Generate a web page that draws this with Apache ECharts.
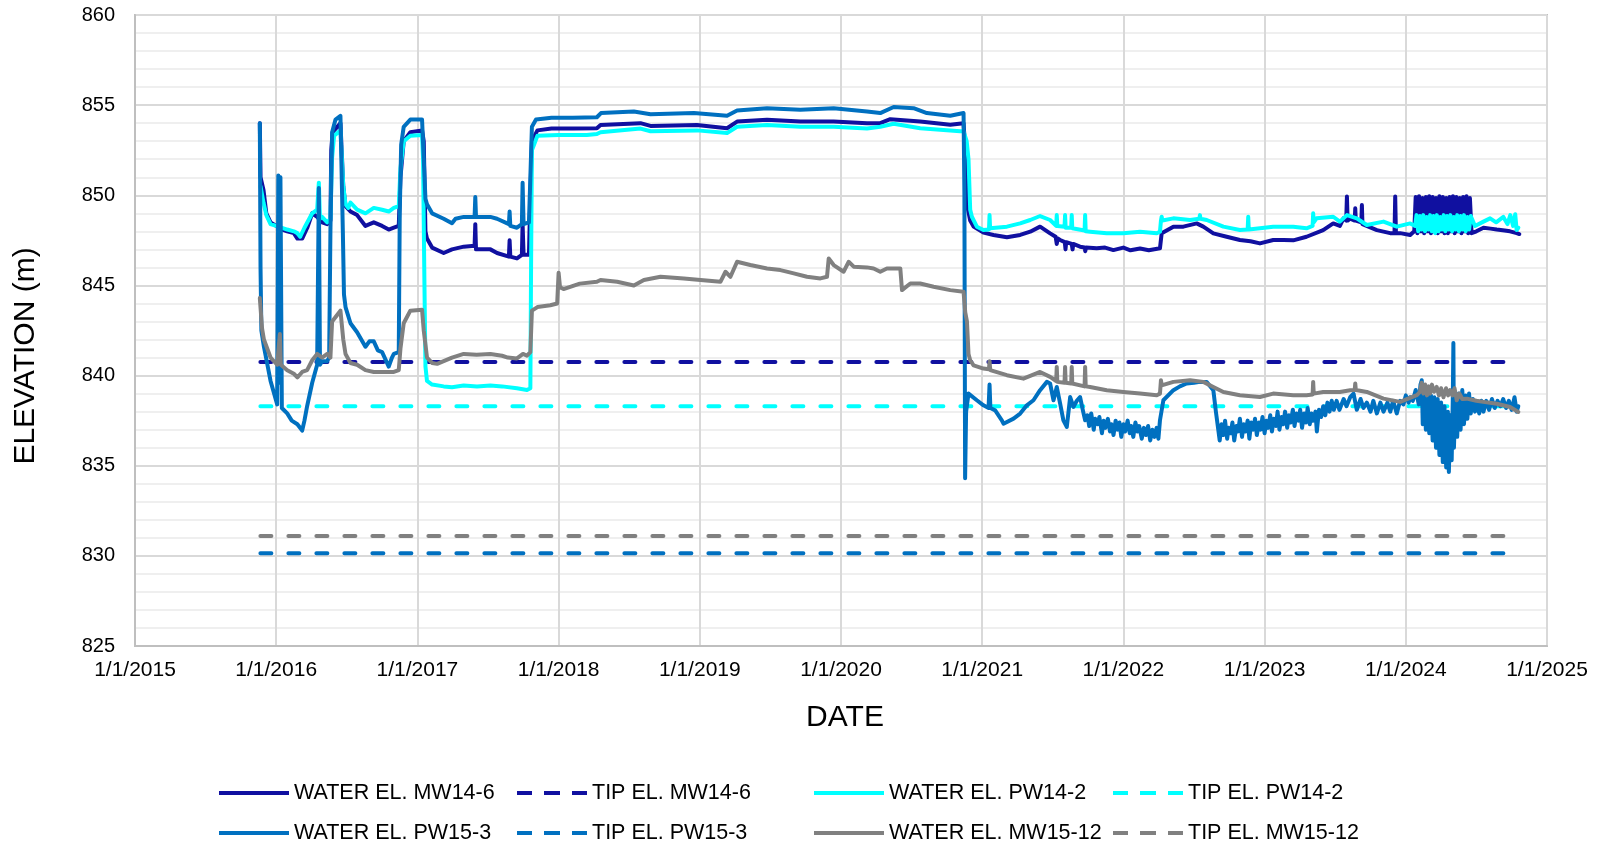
<!DOCTYPE html>
<html><head><meta charset="utf-8">
<script src="https://cdn.jsdelivr.net/npm/echarts@6/dist/echarts.min.js"></script>
<style>html,body{margin:0;padding:0;background:#fff}#c{width:1600px;height:861px}</style>
</head><body><div id="c"></div>
<script>
// x values are dates expressed as decimal years
const xTickLabels = ['1/1/2015','1/1/2016','1/1/2017','1/1/2018','1/1/2019','1/1/2020','1/1/2021','1/1/2022','1/1/2023','1/1/2024','1/1/2025'];
const xMin = 2015, xMax = 2025;
const yMin = 825, yMax = 860, yStep = 5;
const xTitle = 'DATE', yTitle = 'ELEVATION (m)';

const seriesNames = ['WATER EL. MW14-6','TIP EL. MW14-6','WATER EL. PW14-2','TIP EL. PW14-2',
                     'WATER EL. PW15-3','TIP EL. PW15-3','WATER EL. MW15-12','TIP EL. MW15-12'];

const tipStart = 2015.888, tipEnd = 2024.71;
const tipMW146 = 840.75, tipPW142 = 838.3, tipPW153 = 830.15, tipMW1512 = 831.1;

const mw146 = [
[2015.884,854.0],[2015.889,851.0],[2015.91,850.3],[2015.93,849.0],[2015.96,848.5],[2016.0,848.3],[2016.042,848.1],[2016.078,848.0],[2016.125,847.9],[2016.15,847.6],[2016.184,847.6],[2016.22,848.2],[2016.255,849.0],[2016.29,848.8],[2016.325,848.5],[2016.361,848.4],[2016.384,848.6],[2016.39,852.5],[2016.40,853.5],[2016.455,854.0],[2016.467,853.9],[2016.475,850.5],[2016.491,849.4],[2016.526,849.1],[2016.573,848.9],[2016.632,848.3],[2016.691,848.5],[2016.75,848.3],[2016.797,848.1],[2016.833,848.2],[2016.868,848.3],[2016.88,851.0],[2016.903,853.0],[2016.95,853.5],[2017.033,853.6],[2017.045,853.0],[2017.057,848.0],[2017.068,847.6],[2017.104,847.1],[2017.186,846.8],[2017.245,847.0],[2017.328,847.15],[2017.405,847.2],[2017.41,848.4],[2017.415,847.0],[2017.517,847.0],[2017.564,846.8],[2017.648,846.6],[2017.653,847.5],[2017.658,846.6],[2017.705,846.5],[2017.74,846.7],[2017.745,848.4],[2017.752,846.7],[2017.79,846.7],[2017.80,850.0],[2017.811,853.0],[2017.85,853.6],[2017.95,853.7],[2018.1,853.7],[2018.271,853.72],[2018.297,853.9],[2018.58,854.0],[2018.651,853.85],[2018.98,853.9],[2019.193,853.72],[2019.264,854.09],[2019.476,854.19],[2019.712,854.09],[2019.948,854.09],[2020.184,854.0],[2020.278,854.0],[2020.349,854.22],[2020.561,854.09],[2020.774,853.91],[2020.868,854.0],[2020.88,852.5],[2020.892,849.5],[2020.915,848.6],[2020.939,848.26],[2021.009,847.93],[2021.08,847.8],[2021.175,847.67],[2021.269,847.8],[2021.34,847.98],[2021.41,848.26],[2021.481,847.89],[2021.52,847.7],[2021.528,847.3],[2021.535,847.6],[2021.552,847.52],[2021.585,847.4],[2021.59,847.0],[2021.595,847.4],[2021.634,847.3],[2021.64,847.0],[2021.645,847.3],[2021.693,847.15],[2021.725,847.1],[2021.73,846.9],[2021.735,847.1],[2021.811,847.06],[2021.87,847.1],[2021.929,846.96],[2022.0,847.1],[2022.05,846.95],[2022.118,847.05],[2022.18,846.95],[2022.259,847.06],[2022.271,847.89],[2022.354,848.26],[2022.425,848.26],[2022.519,848.44],[2022.566,848.26],[2022.637,847.89],[2022.731,847.7],[2022.825,847.52],[2022.9,847.45],[2022.967,847.33],[2023.061,847.52],[2023.134,847.52],[2023.203,847.5],[2023.297,847.7],[2023.415,848.07],[2023.486,848.44],[2023.533,848.3],[2023.559,848.72],[2023.578,848.6],[2023.583,849.93],[2023.588,848.6],[2023.606,848.7],[2023.638,848.6],[2023.642,849.28],[2023.646,848.6],[2023.685,848.5],[2023.689,849.46],[2023.693,848.4],[2023.7,848.44],[2023.795,848.07],[2023.889,847.9],[2023.92,847.9],[2023.925,849.93],[2023.93,847.9],[2023.96,847.9],[2024.031,847.8],[2024.06,848.0],
[2024.07,849.9],[2024.082,847.9],[2024.094,849.95],[2024.106,848.0],[2024.118,849.85],[2024.13,847.9],[2024.142,849.9],[2024.154,848.0],[2024.166,849.95],[2024.178,847.9],[2024.19,849.9],[2024.202,848.0],[2024.214,849.85],[2024.226,847.9],[2024.238,849.95],[2024.25,848.0],[2024.262,849.9],[2024.274,847.9],[2024.286,849.85],[2024.298,847.9],[2024.31,849.9],[2024.322,848.0],[2024.334,849.95],[2024.346,847.9],[2024.358,849.9],[2024.37,848.0],[2024.382,849.85],[2024.394,847.9],[2024.406,849.9],[2024.418,848.0],[2024.43,849.95],[2024.442,847.9],[2024.454,849.85],[2024.466,847.9],
[2024.5,848.0],[2024.55,848.2],[2024.6,848.15],[2024.644,848.1],[2024.7,848.05],[2024.738,848.0],[2024.785,847.9],[2024.804,847.85]
];

const pw142 = [
[2015.889,850.5],[2015.91,849.6],[2015.93,848.9],[2015.96,848.4],[2016.0,848.3],[2016.078,848.1],[2016.125,848.0],[2016.15,847.9],[2016.17,847.7],[2016.2,848.2],[2016.255,849.0],[2016.29,849.2],[2016.298,849.1],[2016.302,850.7],[2016.31,848.7],[2016.325,848.8],[2016.361,848.5],[2016.384,848.7],[2016.395,852.0],[2016.41,853.3],[2016.455,853.6],[2016.467,853.5],[2016.475,850.5],[2016.491,849.5],[2016.51,849.3],[2016.526,849.6],[2016.573,849.2],[2016.632,849.0],[2016.691,849.3],[2016.75,849.2],[2016.797,849.1],[2016.833,849.3],[2016.868,849.4],[2016.88,851.5],[2016.903,853.0],[2016.95,853.3],[2017.033,853.35],[2017.04,852.0],[2017.05,845.0],[2017.057,840.5],[2017.068,839.7],[2017.104,839.5],[2017.186,839.4],[2017.245,839.35],[2017.328,839.45],[2017.422,839.4],[2017.517,839.45],[2017.6,839.4],[2017.705,839.3],[2017.776,839.2],[2017.8,839.3],[2017.805,846.0],[2017.811,852.5],[2017.85,853.3],[2018.0,853.35],[2018.2,853.35],[2018.271,853.4],[2018.297,853.5],[2018.58,853.7],[2018.651,853.55],[2018.98,853.6],[2019.193,853.45],[2019.264,853.8],[2019.476,853.9],[2019.712,853.8],[2019.948,853.8],[2020.184,853.7],[2020.278,853.8],[2020.373,853.97],[2020.561,853.72],[2020.844,853.55],[2020.868,853.55],[2020.89,853.0],[2020.903,852.0],[2020.915,849.2],[2020.927,848.81],[2020.962,848.26],[2021.009,848.07],[2021.048,848.1],[2021.052,848.9],[2021.056,848.17],[2021.175,848.26],[2021.269,848.44],[2021.34,848.63],[2021.41,848.85],[2021.481,848.63],[2021.524,848.3],[2021.528,848.9],[2021.532,848.3],[2021.583,848.25],[2021.587,848.9],[2021.591,848.2],[2021.63,848.2],[2021.634,848.9],[2021.638,848.17],[2021.646,848.17],[2021.725,848.05],[2021.729,848.9],[2021.733,848.0],[2021.764,847.98],[2021.882,847.89],[2022.0,847.89],[2022.118,847.98],[2022.236,847.89],[2022.259,847.98],[2022.266,848.6],[2022.271,848.81],[2022.276,848.6],[2022.354,848.72],[2022.472,848.63],[2022.538,848.7],[2022.542,848.9],[2022.546,848.7],[2022.59,848.63],[2022.708,848.26],[2022.825,848.07],[2022.88,848.1],[2022.884,848.81],[2022.888,848.1],[2022.967,848.17],[2023.061,848.26],[2023.203,848.26],[2023.297,848.17],[2023.34,848.3],[2023.344,849.0],[2023.348,848.5],[2023.368,848.72],[2023.486,848.81],[2023.533,848.54],[2023.583,848.9],[2023.653,848.72],[2023.724,848.35],[2023.842,848.54],[2023.936,848.26],[2024.031,848.44],[2024.066,848.3],
[2024.076,848.9],[2024.088,848.0],[2024.1,848.85],[2024.112,848.1],[2024.124,848.9],[2024.136,848.0],[2024.148,848.8],[2024.16,848.1],[2024.172,848.9],[2024.184,848.0],[2024.196,848.85],[2024.208,847.9],[2024.22,848.9],[2024.232,848.0],[2024.244,848.8],[2024.256,848.1],[2024.268,848.9],[2024.28,848.0],[2024.292,848.85],[2024.304,848.1],[2024.316,848.9],[2024.328,848.0],[2024.34,848.8],[2024.352,848.1],[2024.364,848.9],[2024.376,848.0],[2024.388,848.85],[2024.4,848.1],[2024.412,848.9],[2024.424,848.0],[2024.436,848.8],[2024.448,848.1],[2024.46,848.85],
[2024.49,848.3],[2024.55,848.54],[2024.597,848.72],[2024.64,848.5],[2024.691,848.8],[2024.72,848.4],[2024.74,848.9],[2024.76,848.3],[2024.775,848.95],[2024.785,848.07],[2024.797,848.2]
];

const pw153 = [
[2015.884,854.0],[2015.889,846.0],[2015.895,842.5],[2015.913,841.6],[2015.96,839.7],[2016.007,838.4],[2016.015,851.1],[2016.022,839.6],[2016.03,851.0],[2016.04,838.2],[2016.078,837.9],[2016.11,837.5],[2016.15,837.3],[2016.184,836.95],[2016.2,837.5],[2016.219,838.3],[2016.255,839.6],[2016.29,840.6],[2016.298,840.7],[2016.302,850.4],[2016.31,840.6],[2016.325,840.8],[2016.361,840.8],[2016.375,841.0],[2016.384,848.0],[2016.396,853.5],[2016.42,854.2],[2016.455,854.4],[2016.467,854.4],[2016.472,848.0],[2016.48,844.5],[2016.491,843.8],[2016.526,842.9],[2016.573,842.4],[2016.632,841.6],[2016.66,841.9],[2016.691,841.9],[2016.72,841.4],[2016.75,841.3],[2016.797,840.5],[2016.82,841.0],[2016.833,841.2],[2016.868,841.3],[2016.875,849.0],[2016.885,852.8],[2016.903,853.8],[2016.95,854.2],[2017.033,854.2],[2017.045,852.0],[2017.057,849.8],[2017.068,849.5],[2017.104,849.0],[2017.186,848.7],[2017.245,848.45],[2017.27,848.7],[2017.328,848.8],[2017.405,848.8],[2017.41,849.9],[2017.415,848.8],[2017.517,848.8],[2017.564,848.7],[2017.648,848.4],[2017.653,849.1],[2017.658,848.3],[2017.705,848.2],[2017.74,848.4],[2017.745,850.7],[2017.752,848.4],[2017.79,848.5],[2017.80,851.0],[2017.811,853.8],[2017.84,854.2],[2017.95,854.3],[2018.1,854.3],[2018.271,854.33],[2018.3,854.56],[2018.533,854.65],[2018.651,854.5],[2018.958,854.56],[2019.193,854.41],[2019.264,854.7],[2019.476,854.83],[2019.712,854.74],[2019.948,854.83],[2020.184,854.65],[2020.278,854.56],[2020.373,854.9],[2020.514,854.83],[2020.608,854.56],[2020.774,854.41],[2020.868,854.56],[2020.874,850.0],[2020.879,834.3],[2020.886,838.0],[2020.903,839.0],[2020.962,838.63],[2021.009,838.35],[2021.045,838.2],[2021.052,839.5],[2021.058,838.2],[2021.092,838.07],[2021.139,837.52],[2021.151,837.33],[2021.222,837.61],[2021.269,837.89],[2021.316,838.35],[2021.363,838.63],[2021.41,839.19],[2021.458,839.65],[2021.481,839.56],[2021.505,838.63],[2021.528,839.37],[2021.552,838.44],[2021.575,837.52],[2021.599,837.15],[2021.623,838.81],[2021.646,838.26],[2021.67,838.6],[2021.693,838.81],[2021.715,838.0],[2021.729,837.52],
[2021.745,837.8],[2021.758,837.2],[2021.772,837.9],[2021.79,837.0],[2021.80,837.6],[2021.818,837.3],[2021.83,837.7],[2021.848,836.8],[2021.86,837.5],[2021.872,837.1],[2021.89,837.6],[2021.905,836.9],[2021.915,837.3],[2021.93,836.7],[2021.945,837.5],[2021.958,837.0],[2021.972,837.4],[2021.985,836.6],[2022.0,837.3],[2022.012,836.9],[2022.03,837.5],[2022.045,836.8],[2022.055,837.2],[2022.07,836.6],[2022.085,837.4],[2022.1,836.9],[2022.112,837.2],[2022.13,836.5],[2022.145,837.1],[2022.16,836.7],[2022.175,837.2],[2022.19,836.4],[2022.205,837.0],[2022.22,836.6],[2022.235,837.1],[2022.248,836.5],
[2022.259,837.52],[2022.283,838.63],[2022.354,839.19],[2022.40,839.4],[2022.448,839.56],[2022.5,839.6],[2022.542,839.65],[2022.59,839.65],[2022.637,839.19],[2022.655,838.0],
[2022.672,837.0],[2022.682,836.4],[2022.695,837.3],[2022.708,836.7],[2022.72,837.5],[2022.735,836.5],[2022.745,837.1],[2022.76,836.8],[2022.772,837.4],[2022.785,836.4],[2022.8,837.2],[2022.812,836.9],[2022.825,837.6],[2022.84,836.6],[2022.852,837.3],[2022.865,836.9],[2022.88,837.5],[2022.892,836.5],[2022.905,837.4],[2022.92,837.0],[2022.932,837.6],[2022.945,836.7],[2022.96,837.4],[2022.972,837.0],[2022.985,837.7],[2023.0,836.8],[2023.012,837.5],[2023.025,837.1],[2023.04,837.8],[2023.052,836.9],[2023.065,837.6],[2023.08,837.2],[2023.092,838.0],[2023.105,837.0],[2023.12,837.7],[2023.132,837.3],[2023.145,838.0],[2023.16,837.1],[2023.172,837.8],[2023.185,837.4],[2023.2,838.1],[2023.212,837.2],[2023.225,837.9],[2023.24,837.5],[2023.252,838.1],[2023.265,837.1],[2023.28,837.9],[2023.292,837.4],[2023.305,838.2],[2023.32,837.3],[2023.332,837.9],[2023.345,837.5],[2023.36,838.0],[2023.37,836.9],[2023.385,838.1],[2023.4,837.7],[2023.415,838.3],[2023.43,837.8],[2023.445,838.5],[2023.46,838.0],[2023.475,838.6],[2023.49,838.1],[2023.51,838.6],
[2023.53,838.1],[2023.56,838.7],[2023.58,838.3],[2023.606,838.8],[2023.63,839.0],[2023.653,838.1],[2023.68,838.7],[2023.70,838.2],[2023.724,838.5],[2023.75,838.0],[2023.77,838.6],[2023.795,837.9],[2023.82,838.5],[2023.842,838.0],[2023.87,838.5],[2023.89,838.0],[2023.91,838.6],[2023.936,837.9],[2023.96,838.6],[2023.983,838.4],[2024.0,838.9],[2024.02,838.5],[2024.031,838.8],[2024.05,838.6],[2024.07,839.2],
[2024.08,839.2],[2024.092,838.4],[2024.104,839.5],[2024.113,839.74],[2024.12,837.3],[2024.13,839.0],[2024.142,837.0],[2024.154,839.1],[2024.166,836.8],[2024.178,838.9],[2024.19,836.4],[2024.202,838.8],[2024.214,836.0],[2024.226,838.7],[2024.238,835.6],[2024.25,838.5],[2024.262,835.2],[2024.274,838.3],[2024.286,834.9],[2024.298,838.0],[2024.305,834.65],[2024.315,837.8],[2024.325,835.3],[2024.333,838.8],[2024.337,841.8],[2024.341,836.0],[2024.352,838.9],[2024.364,836.6],[2024.376,839.0],[2024.388,837.0],[2024.40,839.2],[2024.412,837.3],[2024.424,838.9],[2024.436,837.6],[2024.448,839.0],[2024.46,837.9],
[2024.475,838.7],[2024.49,838.0],[2024.505,838.5],[2024.52,837.9],[2024.535,838.6],[2024.55,838.0],[2024.57,838.6],[2024.59,838.1],[2024.61,838.7],[2024.63,838.2],[2024.65,838.6],[2024.67,838.3],[2024.69,838.7],[2024.71,838.2],[2024.73,838.6],[2024.75,838.1],[2024.77,838.8],[2024.785,838.0],[2024.797,838.3]
];

const mw1512 = [
[2015.884,844.3],[2015.9,842.6],[2015.913,842.0],[2015.96,841.0],[2016.007,840.6],[2016.019,840.55],[2016.026,842.3],[2016.033,840.6],[2016.078,840.3],[2016.125,840.1],[2016.15,839.9],[2016.184,840.2],[2016.219,840.3],[2016.255,840.85],[2016.29,841.2],[2016.325,841.0],[2016.361,841.2],[2016.384,841.0],[2016.396,843.0],[2016.455,843.6],[2016.467,843.7],[2016.475,842.0],[2016.491,841.2],[2016.526,840.7],[2016.573,840.6],[2016.632,840.3],[2016.691,840.2],[2016.75,840.2],[2016.797,840.2],[2016.833,840.2],[2016.868,840.3],[2016.88,841.5],[2016.903,842.9],[2016.95,843.6],[2017.033,843.65],[2017.045,842.5],[2017.068,841.0],[2017.104,840.7],[2017.14,840.65],[2017.186,840.8],[2017.245,841.0],[2017.328,841.2],[2017.42,841.15],[2017.517,841.2],[2017.6,841.1],[2017.64,841.0],[2017.705,840.95],[2017.748,841.2],[2017.776,841.1],[2017.8,841.3],[2017.811,843.6],[2017.85,843.8],[2017.941,843.9],[2017.99,844.0],[2018.0,845.7],[2018.01,844.9],[2018.035,844.8],[2018.15,845.1],[2018.271,845.2],[2018.297,845.3],[2018.415,845.2],[2018.533,845.0],[2018.604,845.3],[2018.722,845.48],[2018.887,845.39],[2019.005,845.3],[2019.146,845.2],[2019.182,845.76],[2019.217,845.48],[2019.264,846.31],[2019.358,846.13],[2019.476,845.94],[2019.571,845.85],[2019.665,845.67],[2019.759,845.48],[2019.854,845.39],[2019.901,845.48],[2019.913,846.5],[2019.948,846.13],[2020.019,845.76],[2020.054,846.31],[2020.09,846.04],[2020.184,846.0],[2020.231,845.94],[2020.278,845.76],[2020.325,845.94],[2020.42,845.94],[2020.432,844.74],[2020.491,845.11],[2020.561,845.11],[2020.656,844.93],[2020.774,844.74],[2020.868,844.65],[2020.88,843.5],[2020.892,843.0],[2020.903,841.2],[2020.915,840.85],[2020.939,840.57],[2021.009,840.39],[2021.048,840.35],[2021.052,840.8],[2021.057,840.3],[2021.175,840.02],[2021.292,839.83],[2021.41,840.2],[2021.481,839.93],[2021.524,839.7],[2021.528,840.48],[2021.532,839.65],[2021.583,839.6],[2021.587,840.48],[2021.591,839.6],[2021.63,839.56],[2021.634,840.48],[2021.638,839.56],[2021.646,839.56],[2021.725,839.4],[2021.729,840.48],[2021.733,839.4],[2021.764,839.37],[2021.882,839.19],[2022.0,839.09],[2022.118,839.0],[2022.236,838.91],[2022.259,839.0],[2022.266,839.74],[2022.271,839.46],[2022.354,839.65],[2022.472,839.74],[2022.566,839.65],[2022.637,839.37],[2022.708,839.09],[2022.825,838.91],[2022.967,838.81],[2023.061,839.0],[2023.203,838.91],[2023.297,838.91],[2023.34,838.95],[2023.344,839.65],[2023.348,839.0],[2023.415,839.09],[2023.533,839.09],[2023.606,839.19],[2023.638,839.2],[2023.642,839.56],[2023.646,839.2],[2023.724,839.09],[2023.842,838.72],[2023.96,838.54],[2024.078,838.91],
[2024.1,839.1],[2024.112,839.6],[2024.125,839.0],[2024.137,839.5],[2024.15,838.9],[2024.162,839.4],[2024.172,839.0],[2024.185,839.5],[2024.2,839.1],[2024.219,839.37],[2024.235,838.9],[2024.25,839.3],[2024.267,838.8],[2024.285,839.3],[2024.3,838.9],[2024.314,839.19],[2024.33,838.9],[2024.345,839.3],[2024.361,838.63],[2024.38,839.0],[2024.4,838.7],[2024.432,838.72],[2024.5,838.6],[2024.55,838.54],[2024.644,838.44],[2024.738,838.26],[2024.797,837.98]
];

const colors = {navy:'#1010A0', cyan:'#00FFFF', blue:'#0070C0', gray:'#808080'};
const FONT = 'Liberation Sans, Arial, sans-serif';
const LW = 4;

function waterSeries(name, data, color){
  return {name, type:'line', data, symbol:'none', showSymbol:false, silent:true,
    lineStyle:{color, width:LW, join:'round', cap:'round'}, itemStyle:{color}};
}
function tipSeries(name, level, color){
  return {name, type:'line', data:[[tipStart, level],[tipEnd, level]], symbol:'none', silent:true,
    lineStyle:{color, width:LW, type:[11,17], cap:'round'}, itemStyle:{color}};
}

const series = [
  waterSeries(seriesNames[0], mw146, colors.navy),
  tipSeries(seriesNames[1], tipMW146, colors.navy),
  waterSeries(seriesNames[2], pw142, colors.cyan),
  tipSeries(seriesNames[3], tipPW142, colors.cyan),
  waterSeries(seriesNames[4], pw153, colors.blue),
  tipSeries(seriesNames[5], tipPW153, colors.blue),
  waterSeries(seriesNames[6], mw1512, colors.gray),
  tipSeries(seriesNames[7], tipMW1512, colors.gray)
];

const solidIcon = 'path://M0,0H70V4H0Z';
const dashIcon = 'path://M0,0H15V4H0Z M27,0H43V4H27Z M55,0H70V4H55Z';
const legCols = [219, 517, 814, 1113];
const legRows = [793, 833];
const legends = seriesNames.map((n, i) => ({
  data:[{name:n, icon: (i % 2 === 0) ? solidIcon : dashIcon}],
  orient:'horizontal', left: legCols[i % 4], top: legRows[Math.floor(i / 4)] - 12,
  itemWidth:70, itemHeight:4, padding:0, selectedMode:false,
  textStyle:{fontSize:21.5, color:'#000', fontFamily:FONT, lineHeight:24}
}));

const chart = echarts.init(document.getElementById('c'), null, {renderer:'canvas'});
chart.setOption({
  animation:false,
  backgroundColor:'#fff',
  grid:{left:135, right:53, top:15, bottom:215, show:true, borderColor:'#bfbfbf', borderWidth:2, backgroundColor:'transparent'},
  legend: legends,
  graphic:[
    {type:'text', x:25.5, y:356, rotation:Math.PI/2, silent:true,
      style:{text:yTitle, font:'30px ' + FONT, fill:'#000', textAlign:'center', textVerticalAlign:'middle'}},
    {type:'text', x:845, y:717.5, silent:true,
      style:{text:xTitle, font:'30px ' + FONT, fill:'#000', textAlign:'center', textVerticalAlign:'middle'}}
  ],
  xAxis:{
    type:'value', min:xMin, max:xMax, interval:1,
    axisLine:{show:true, lineStyle:{color:'#bfbfbf', width:2}},
    axisTick:{show:false},
    axisLabel:{fontSize:21, color:'#000', fontFamily:FONT, margin:14,
      formatter: v => xTickLabels[Math.round(v - xMin)]},
    splitLine:{show:true, lineStyle:{color:'#d9d9d9', width:2}}
  },
  yAxis:{
    type:'value', min:yMin, max:yMax, interval:yStep,
    axisLine:{show:true, lineStyle:{color:'#bfbfbf', width:2}},
    axisTick:{show:false},
    axisLabel:{fontSize:20, color:'#000', fontFamily:FONT, margin:20},
    splitLine:{show:true, lineStyle:{color:'#d9d9d9', width:2}},
    minorTick:{show:false, splitNumber:5},
    minorSplitLine:{show:true, lineStyle:{color:'#efefef', width:2}}
  },
  series
});
</script></body></html>
